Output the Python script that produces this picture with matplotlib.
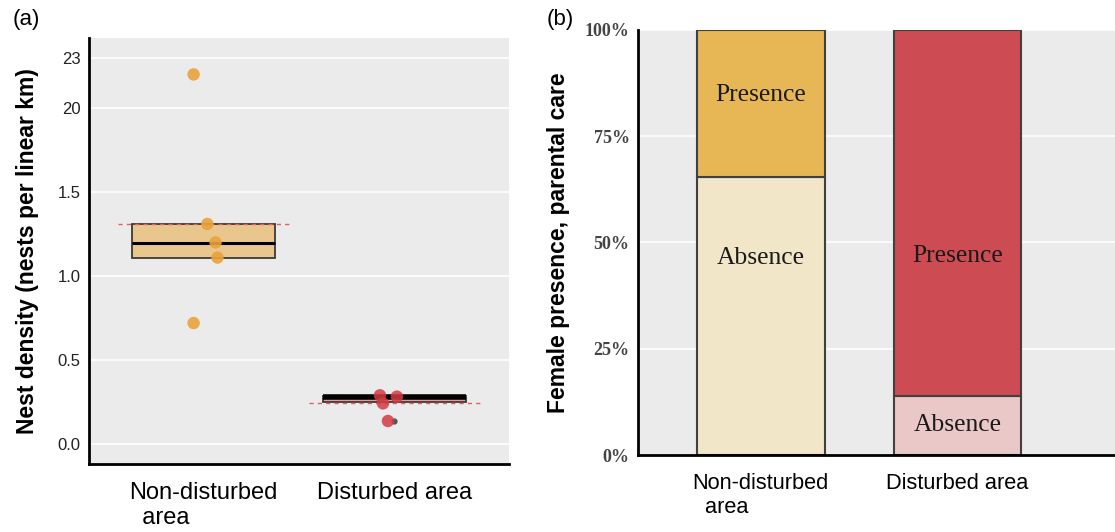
import matplotlib.pyplot as plt

# panel (a): nest density
areas = ["Non-disturbed\n  area", "Disturbed area"]
box_q1 = [1.107, 0.25]
box_median = [1.198, 0.282]
box_q3 = [1.31, 0.285]
dashed_ref = [1.31, 0.245]
points_nd = [2.20, 1.31, 1.20, 1.11, 0.72]
jitter_nd = [-0.052, 0.02, 0.063, 0.073, -0.052]
points_d = [0.29, 0.242, 0.282, 0.137]
jitter_d = [-0.076, -0.06, 0.013, -0.034]
outliers_d = [0.137]
density_ticks = [0.0, 0.5, 1.0, 1.5, 2.0, 2.3]
density_ticklabels = ["0.0", "0.5", "1.0", "1.5", "20", "23"]

# panel (b): female presence
absence_pct = [65.4, 14.0]
presence_pct = [34.6, 86.0]
pct_ticks = [0, 25, 50, 75, 100]

bg = "#EBEBEB"
orange = "#E9A23B"
red = "#D23C42"

fig = plt.figure(figsize=(11.15, 5.32), dpi=100)

# ---- (a)
ax1 = fig.add_axes([0.0798, 0.1278, 0.3767, 0.8008])
ax1.set_facecolor(bg)
x = range(len(areas))
ax1.bar(x, [q3 - q1 for q1, q3 in zip(box_q1, box_q3)], width=0.75,
        bottom=box_q1, color=["#E9C68C", "#E59A9A"], edgecolor="#3a3a3a",
        linewidth=1.3, zorder=2)
for i in x:
    ax1.hlines(box_median[i], i - 0.375, i + 0.375, color="black",
               linewidth=2.2 if i == 0 else 4, zorder=3)
    ax1.hlines(dashed_ref[i], i - 0.45, i + 0.45, color="#E06060",
               linestyle=(0, (3, 3)), linewidth=1, zorder=3)

ax1.scatter([1] * len(outliers_d), outliers_d, s=12, color="#555555", zorder=4)
ax1.scatter([0 + j for j in jitter_nd], points_nd, s=80, color=orange,
            alpha=0.9, edgecolor="none", zorder=5)
ax1.scatter([1 + j for j in jitter_d], points_d, s=80, color=red,
            alpha=0.85, edgecolor="none", zorder=5)

ax1.set_xlim(-0.6, 1.6)
ax1.set_ylim(-0.119, 2.417)
ax1.set_yticks(density_ticks)
ax1.set_yticklabels(density_ticklabels, fontsize=12, family="Liberation Sans",
                    color="#222222")
ax1.set_xticks(list(x))
ax1.set_xticklabels(areas, fontsize=17, family="Liberation Sans",
                    multialignment="left")
ax1.tick_params(length=0, axis="y", pad=6)
ax1.tick_params(length=0, axis="x", pad=13)
ax1.grid(axis="y", color="white", linewidth=1.2)
ax1.set_axisbelow(True)
for s in ["top", "right"]:
    ax1.spines[s].set_visible(False)
for s in ["left", "bottom"]:
    ax1.spines[s].set_linewidth(2)
ax1.set_ylabel("Nest density (nests per linear km)", fontsize=16.5,
               fontweight="bold", family="Liberation Sans")
ax1.yaxis.set_label_coords(-0.119, 0.5)

# ---- (b)
ax2 = fig.add_axes([0.5722, 0.1447, 0.4278, 0.799])
ax2.set_facecolor(bg)
ax2.bar(x, absence_pct, width=0.65, color=["#F2E6C8", "#EBC8C8"],
        edgecolor="#404040", linewidth=1.5, zorder=2)
ax2.bar(x, presence_pct, width=0.65, bottom=absence_pct,
        color=["#E7B756", "#CD4B52"], edgecolor="#404040", linewidth=1.5,
        zorder=2)

label_text = [("Presence", 84.7), ("Absence", 46.4), ("Presence", 46.8),
              ("Absence", 7.0)]
label_x = [0, 0, 1, 1]
for (txt, y), xi in zip(label_text, label_x):
    ax2.text(xi, y, txt, ha="center", va="center", fontsize=18.4,
             family="Liberation Serif", color="#1a1a1a", zorder=4)

ax2.set_xlim(-0.623, 1.80)
ax2.set_ylim(0, 100)
ax2.set_yticks(pct_ticks)
ax2.set_yticklabels([f"{t}%" for t in pct_ticks], fontsize=13,
                    family="Liberation Serif", fontweight="bold",
                    color="#444444")
ax2.set_xticks(list(x))
ax2.set_xticklabels(areas, fontsize=15.7, family="Liberation Sans",
                    multialignment="left")
ax2.tick_params(length=0, axis="y", pad=6)
ax2.tick_params(length=0, axis="x", pad=13)
ax2.grid(axis="y", color="white", linewidth=1.2)
ax2.set_axisbelow(True)
for s in ["top", "right"]:
    ax2.spines[s].set_visible(False)
for s in ["left", "bottom"]:
    ax2.spines[s].set_linewidth(2)
ax2.set_ylabel("Female presence, parental care", fontsize=16.5,
               fontweight="bold", family="Liberation Sans")
ax2.yaxis.set_label_coords(-0.143, 0.5)

fig.text(0.011, 0.964, "(a)", fontsize=16, family="Liberation Sans", va="center")
fig.text(0.490, 0.964, "(b)", fontsize=16, family="Liberation Sans", va="center")

fig.savefig("out.png", dpi=100)
